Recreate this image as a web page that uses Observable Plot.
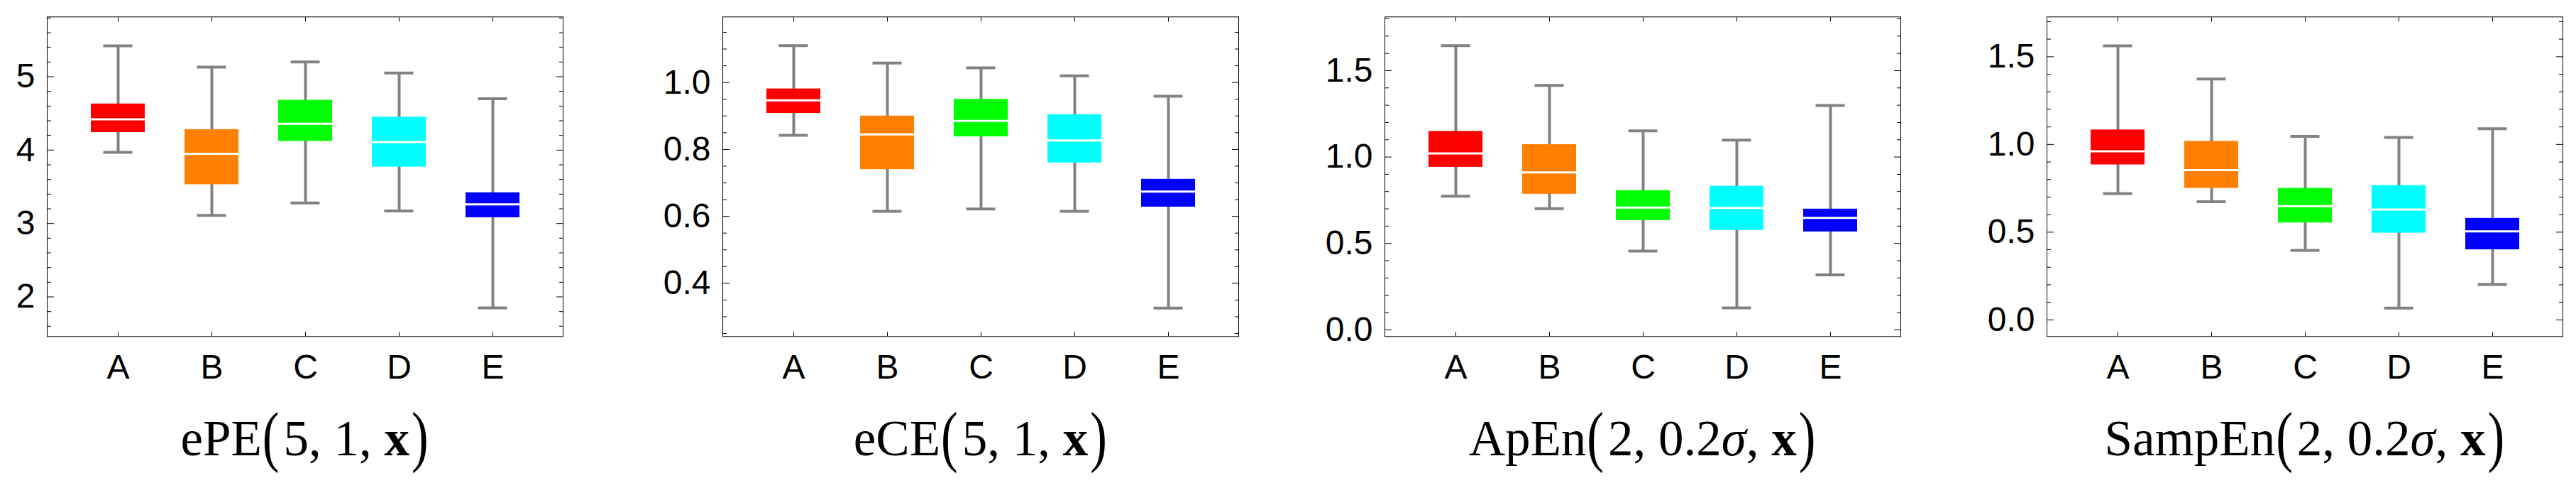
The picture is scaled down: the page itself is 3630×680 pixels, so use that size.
<!DOCTYPE html>
<html>
<head>
<meta charset="utf-8">
<script src="https://cdn.jsdelivr.net/npm/d3@7"></script>
<script src="https://cdn.jsdelivr.net/npm/@observablehq/plot@0.6"></script>
<style>
  html, body { margin: 0; padding: 0; background: #fff; }
  #wrap { position: relative; width: 3630px; height: 680px; overflow: hidden; background: #fff; }
  .panel { position: absolute; top: 0; }
  .title { position: absolute; top: 582px; width: 727px; text-align: center;
           font-family: "Liberation Serif", "Times New Roman", serif; font-size: 71px;
           line-height: 71px; color: #000; white-space: nowrap; }
  .title b { font-weight: bold; }
  .title i { font-style: italic; }
  .p { display: inline-block; transform: scaleY(1.34); transform-origin: 50% 62%; }
  .pl { margin-right: 6px; margin-left: 1px; }
  .pr { margin-left: 3px; }
</style>
</head>
<body>
<div id="wrap"></div>
<script>
// ---------- data ----------
const categories = ["A", "B", "C", "D", "E"];
const boxColors = ["#ff0000", "#ff8000", "#00ff00", "#00ffff", "#0000ff"];

// ePE(5,1,x)
const ePE_lo  = [3.97, 3.11, 3.28, 3.17, 1.85];
const ePE_q1  = [4.24, 3.53, 4.12, 3.77, 3.08];
const ePE_med = [4.42, 3.95, 4.36, 4.11, 3.26];
const ePE_q3  = [4.63, 4.28, 4.68, 4.45, 3.42];
const ePE_hi  = [5.42, 5.13, 5.20, 5.05, 4.70];

// eCE(5,1,x)
const eCE_lo  = [0.842, 0.615, 0.622, 0.615, 0.326];
const eCE_q1  = [0.908, 0.740, 0.838, 0.760, 0.628];
const eCE_med = [0.947, 0.845, 0.885, 0.827, 0.674];
const eCE_q3  = [0.981, 0.900, 0.950, 0.904, 0.711];
const eCE_hi  = [1.110, 1.058, 1.044, 1.020, 0.959];

// ApEn(2,0.2σ,x)
const ApEn_lo  = [0.773, 0.701, 0.456, 0.127, 0.318];
const ApEn_q1  = [0.941, 0.785, 0.633, 0.576, 0.567];
const ApEn_med = [1.021, 0.911, 0.707, 0.705, 0.648];
const ApEn_q3  = [1.149, 1.072, 0.806, 0.831, 0.699];
const ApEn_hi  = [1.645, 1.414, 1.151, 1.098, 1.298];

// SampEn(2,0.2σ,x)
const SampEn_lo  = [0.720, 0.673, 0.396, 0.067, 0.202];
const SampEn_q1  = [0.884, 0.750, 0.553, 0.495, 0.400];
const SampEn_med = [0.961, 0.854, 0.648, 0.629, 0.504];
const SampEn_q3  = [1.083, 1.018, 0.750, 0.766, 0.579];
const SampEn_hi  = [1.562, 1.373, 1.046, 1.040, 1.090];

// axis domains and ticks
const ePE_domain = [1.46, 5.815];
const ePE_major = [2, 3, 4, 5];
const ePE_minor = [1.6, 1.8, 2.2, 2.4, 2.6, 2.8, 3.2, 3.4, 3.6, 3.8, 4.2, 4.4, 4.6, 4.8, 5.2, 5.4, 5.6, 5.8];

const eCE_domain = [0.241, 1.196];
const eCE_major = [0.4, 0.6, 0.8, 1.0];
const eCE_minor = [0.25, 0.3, 0.35, 0.45, 0.5, 0.55, 0.65, 0.7, 0.75, 0.85, 0.9, 0.95, 1.05, 1.1, 1.15];

const ApEn_domain = [-0.039, 1.811];
const ApEn_major = [0, 0.5, 1.0, 1.5];
const ApEn_minor = [0.1, 0.2, 0.3, 0.4, 0.6, 0.7, 0.8, 0.9, 1.1, 1.2, 1.3, 1.4, 1.6, 1.7, 1.8];

const SampEn_domain = [-0.095, 1.727];
const SampEn_major = [0, 0.5, 1.0, 1.5];
const SampEn_minor = [0.1, 0.2, 0.3, 0.4, 0.6, 0.7, 0.8, 0.9, 1.1, 1.2, 1.3, 1.4, 1.6, 1.7];

// ---------- layout ----------
const FRAME_W = 727, FRAME_TOP = 23.3, FRAME_H = 450;
const ML = 110, MR = 20, MB = 80;
const panels = [
  {left: 65.5,   lo: ePE_lo, q1: ePE_q1, med: ePE_med, q3: ePE_q3, hi: ePE_hi, domain: ePE_domain, major: ePE_major, minor: ePE_minor, fmt: d3.format("d"),
   title: 'ePE<span class="p pl">(</span>5, 1, <b>x</b><span class="p pr">)</span>'},
  {left: 1017.8, lo: eCE_lo, q1: eCE_q1, med: eCE_med, q3: eCE_q3, hi: eCE_hi, domain: eCE_domain, major: eCE_major, minor: eCE_minor, fmt: d3.format(".1f"),
   title: 'eCE<span class="p pl">(</span>5, 1, <b>x</b><span class="p pr">)</span>'},
  {left: 1950.5, lo: ApEn_lo, q1: ApEn_q1, med: ApEn_med, q3: ApEn_q3, hi: ApEn_hi, domain: ApEn_domain, major: ApEn_major, minor: ApEn_minor, fmt: d3.format(".1f"),
   title: 'ApEn<span class="p pl">(</span>2, 0.2<i>σ</i>, <b>x</b><span class="p pr">)</span>'},
  {left: 2883.9, lo: SampEn_lo, q1: SampEn_q1, med: SampEn_med, q3: SampEn_q3, hi: SampEn_hi, domain: SampEn_domain, major: SampEn_major, minor: SampEn_minor, fmt: d3.format(".1f"),
   title: 'SampEn<span class="p pl">(</span>2, 0.2<i>σ</i>, <b>x</b><span class="p pr">)</span>'}
];

const wrap = document.getElementById("wrap");
const gray = "#828282";
const FS = 48;
const noText = () => "";

for (const p of panels) {
  const rows = categories.map((c, i) => ({cat: c, lo: p.lo[i], q1: p.q1[i], med: p.med[i], q3: p.q3[i], hi: p.hi[i]}));
  const chart = Plot.plot({
    width: ML + FRAME_W + MR,
    height: FRAME_TOP + FRAME_H + MB,
    marginLeft: ML, marginRight: MR, marginTop: FRAME_TOP, marginBottom: MB,
    style: {fontFamily: '"Liberation Sans", Arial, sans-serif', fontSize: FS + "px", color: "#000", background: "transparent", overflow: "visible"},
    x: {type: "band", domain: categories, paddingInner: 0.426, paddingOuter: 0.456, axis: null},
    y: {domain: p.domain, axis: null},
    color: {domain: categories, range: boxColors},
    marks: [
      // whiskers
      Plot.ruleX(rows, {x: "cat", y1: "lo", y2: "hi", stroke: gray, strokeWidth: 4}),
      Plot.tickY(rows, {x: "cat", y: "lo", stroke: gray, strokeWidth: 4, insetLeft: 17.5, insetRight: 17.5}),
      Plot.tickY(rows, {x: "cat", y: "hi", stroke: gray, strokeWidth: 4, insetLeft: 17.5, insetRight: 17.5}),
      // boxes
      Plot.barY(rows, {x: "cat", y1: "q1", y2: "q3", fill: "cat"}),
      // medians
      Plot.tickY(rows, {x: "cat", y: "med", stroke: "white", strokeWidth: 3}),
      // minor ticks (inward)
      Plot.axisY(p.minor, {anchor: "left", tickSize: 6, dx: 6, tickFormat: noText, label: null, stroke: "#000"}),
      Plot.axisY(p.minor, {anchor: "right", tickSize: 6, dx: -6, tickFormat: noText, label: null, stroke: "#000"}),
      // major ticks (inward)
      Plot.axisY(p.major, {anchor: "left", tickSize: 10, dx: 10, tickFormat: noText, label: null, stroke: "#000"}),
      Plot.axisY(p.major, {anchor: "right", tickSize: 10, dx: -10, tickFormat: noText, label: null, stroke: "#000"}),
      // y labels
      Plot.axisY(p.major, {anchor: "left", tickSize: 0, tickPadding: 17, tickFormat: p.fmt, label: null, fontSize: FS, fill: "#000"}),
      // x ticks top/bottom (inward)
      Plot.axisX(categories, {anchor: "top", tickSize: 6, dy: 6, tickFormat: noText, label: null, stroke: "#000"}),
      Plot.axisX(categories, {anchor: "bottom", tickSize: 6, dy: -6, tickFormat: noText, label: null, stroke: "#000"}),
      // x labels
      Plot.axisX(categories, {anchor: "bottom", tickSize: 0, tickPadding: 25, label: null, fontSize: FS, fill: "#000"}),
      Plot.frame({stroke: "#000", strokeWidth: 1})
    ]
  });
  chart.classList.add("panel");
  chart.style.left = (p.left - ML) + "px";
  wrap.appendChild(chart);

  const t = document.createElement("div");
  t.className = "title";
  t.style.left = p.left + "px";
  t.innerHTML = p.title;
  wrap.appendChild(t);
}
</script>
</body>
</html>
